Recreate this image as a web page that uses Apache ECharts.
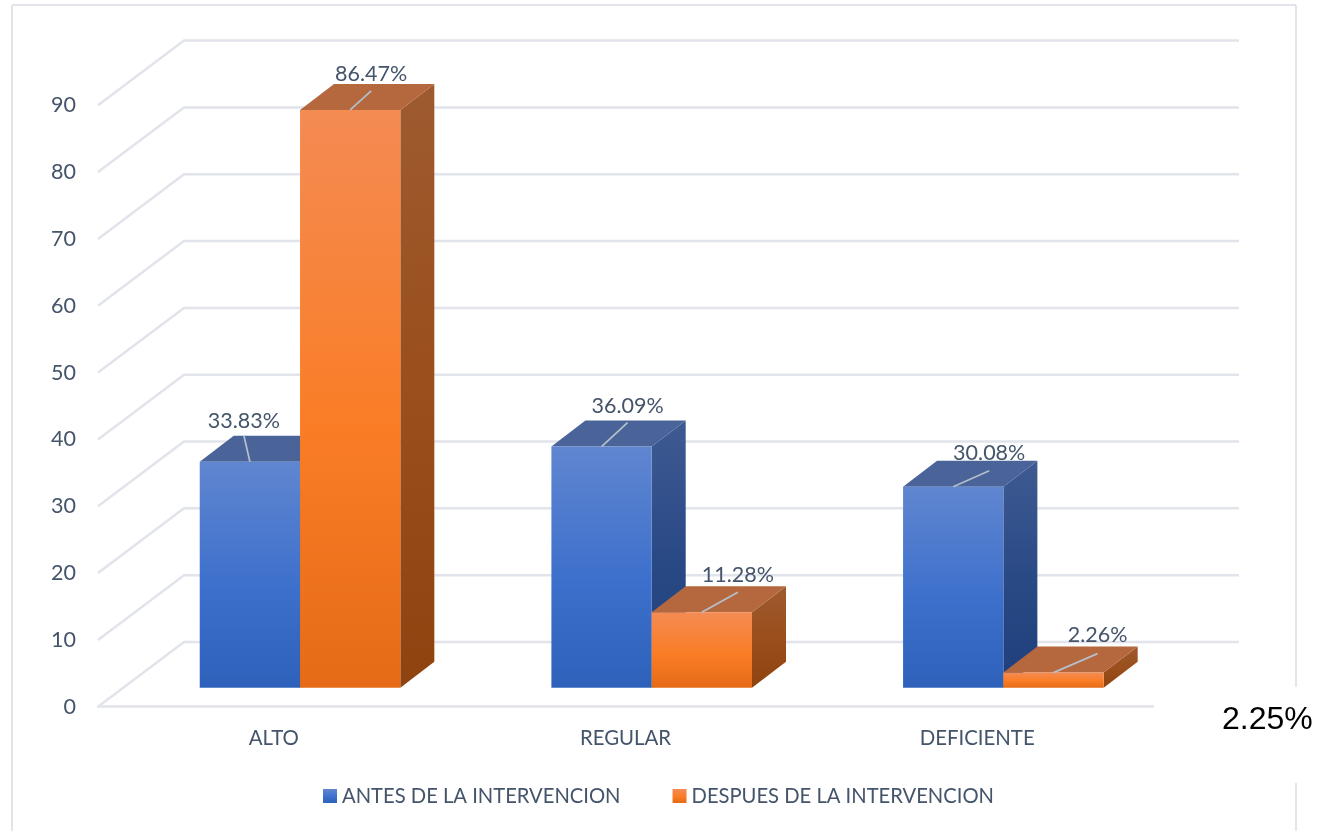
<!DOCTYPE html>
<html>
<head>
<meta charset="utf-8">
<style>
  html, body { margin: 0; padding: 0; background: #fff; }
  #chart { width: 1319px; height: 831px; }
</style>
<script src="https://cdn.jsdelivr.net/npm/echarts@6/dist/echarts.min.js"></script>
</head>
<body>
<div id="chart"></div>
<script>
const categories = ['ALTO', 'REGULAR', 'DEFICIENTE']
const antes = [33.83, 36.09, 30.08]
const despues = [86.47, 11.28, 2.26]
const yTicks = [0, 10, 20, 30, 40, 50, 60, 70, 80, 90]
const seriesNames = ['ANTES DE LA INTERVENCION', 'DESPUES DE LA INTERVENCION']

const TEXT = '#44546a'
const LINE = '#e1e4eb'
const FONT = 'Lato, "Noto Sans", sans-serif'

// vista 3D falsa: desplazamiento del piso completo y de la profundidad de la barra
const FLOOR_DX = 86
const FLOOR_DY = -64.7
const BAR_SHIFT_X = 26.2
const BAR_SHIFT_Y = -19
const DEPTH_X = 34
const DEPTH_Y = -26
const BAR_W = 100.3

// extremo de la linea guia de cada etiqueta, respecto al centro superior de la barra
// el tercer numero es la separacion entre la linea y el texto
const leadAntes = [[-6, -26, 14.5], [26, -24, 16.5], [36, -16, 17.5]]
const leadDespues = [[21, -19, 17], [36, -20, 17], [44, -19, 18.5]]

const vGrad = (stops) => new echarts.graphic.LinearGradient(0, 0, 0, 1,
  stops.map((c, i) => ({ offset: c[0], color: c[1] })))

const palette = {
  blue: {
    front: [[0, '#6086d0'], [0.55, '#3d70cc'], [1, '#2e61ba']],
    top: '#4a6399',
    side: [[0, '#3f5a92'], [0.5, '#2a4a86'], [1, '#1f3f7c']]
  },
  orange: {
    front: [[0, '#f48b53'], [0.55, '#fa7d26'], [1, '#e56b17']],
    top: '#b5683d',
    side: [[0, '#9e5a30'], [0.5, '#9a4f1c'], [1, '#8f430f']]
  }
}

const gridRenderer = (params, api) => {
  const p = api.coord([0, api.value(0)])
  const cs = params.coordSys
  const x0 = cs.x
  const y0 = p[1]
  return {
    type: 'polyline',
    shape: { points: [[x0, y0], [x0 + FLOOR_DX, y0 + FLOOR_DY], [x0 + cs.width + FLOOR_DX, y0 + FLOOR_DY]] },
    style: { stroke: LINE, lineWidth: 2.5, fill: null },
    silent: true
  }
}

// caja de una barra: cara frontal, tapa, lateral, linea guia y etiqueta
const barRenderer = (colors, side, lead) => (params, api) => {
  const idx = api.value(0)
  const val = api.value(1)
  const top = api.coord([idx, val])
  const base = api.coord([idx, 0])
  const x0 = top[0] + BAR_SHIFT_X + (side < 0 ? -BAR_W : 0)
  const x1 = x0 + BAR_W
  const yTop = top[1] + BAR_SHIFT_Y
  const yBase = base[1] + BAR_SHIFT_Y
  const mid = (x0 + x1) / 2
  const end = lead[idx]
  return {
    type: 'group',
    children: [
      {
        type: 'polygon',
        shape: { points: [[x1, yTop], [x1 + DEPTH_X, yTop + DEPTH_Y], [x1 + DEPTH_X, yBase + DEPTH_Y], [x1, yBase]] },
        style: { fill: vGrad(colors.side) }
      },
      {
        type: 'polygon',
        shape: { points: [[x0, yTop], [x0 + DEPTH_X, yTop + DEPTH_Y], [x1 + DEPTH_X, yTop + DEPTH_Y], [x1, yTop]] },
        style: { fill: colors.top }
      },
      {
        type: 'rect',
        shape: { x: x0, y: yTop, width: BAR_W, height: yBase - yTop },
        style: { fill: vGrad(colors.front) }
      },
      {
        type: 'line',
        shape: { x1: mid, y1: yTop, x2: mid + end[0], y2: yTop + end[1] },
        style: { stroke: '#b4bfcb', lineWidth: 1.8 }
      },
      {
        type: 'text',
        x: mid + end[0],
        y: yTop + end[1] - end[2],
        style: {
          text: val.toFixed(2) + '%',
          fill: TEXT,
          font: '21.5px ' + FONT,
          align: 'center',
          verticalAlign: 'middle'
        }
      }
    ]
  }
}

const frameLine = (x1, y1, x2, y2) => ({
  type: 'line',
  shape: { x1, y1, x2, y2 },
  style: { stroke: LINE, lineWidth: 2 },
  silent: true
})

const chart = echarts.init(document.getElementById('chart'))
chart.setOption({
  animation: false,
  backgroundColor: '#fff',
  grid: { left: 98, right: 166, top: 105.3, bottom: 124.3 },
  legend: {
    left: 318,
    top: 781,
    icon: 'rect',
    itemWidth: 14,
    itemHeight: 14,
    itemGap: 52,
    textStyle: { color: TEXT, fontSize: 20.2, fontFamily: FONT },
    data: [
      { name: seriesNames[0], itemStyle: { color: vGrad(palette.blue.front) } },
      { name: seriesNames[1], itemStyle: { color: vGrad(palette.orange.front) } }
    ]
  },
  xAxis: {
    type: 'category',
    data: categories,
    axisTick: { show: false },
    axisLine: { lineStyle: { color: LINE, width: 2.5 } },
    axisLabel: { color: TEXT, fontSize: 20.4, fontFamily: FONT, margin: 22 }
  },
  yAxis: {
    type: 'value',
    min: 0,
    max: 90,
    interval: 10,
    splitLine: { show: false },
    axisLine: { show: false },
    axisTick: { show: false },
    axisLabel: { color: TEXT, fontSize: 21.5, fontFamily: FONT, margin: 22, padding: [6, 0, 0, 0] }
  },
  series: [
    {
      name: 'lineas',
      type: 'custom',
      renderItem: gridRenderer,
      data: yTicks.map(v => [v]),
      encode: { y: 0 },
      silent: true,
      z: 1
    },
    {
      name: seriesNames[0],
      type: 'custom',
      renderItem: barRenderer(palette.blue, -1, leadAntes),
      data: antes.map((v, i) => [i, v]),
      encode: { x: 0, y: 1 },
      itemStyle: { color: '#3d70cc' },
      z: 2
    },
    {
      name: seriesNames[1],
      type: 'custom',
      renderItem: barRenderer(palette.orange, 1, leadDespues),
      data: despues.map((v, i) => [i, v]),
      encode: { x: 0, y: 1 },
      itemStyle: { color: '#fa7d26' },
      z: 3
    }
  ],
  graphic: [
    frameLine(12, 5, 1296, 5),
    frameLine(12, 5, 12, 831),
    frameLine(1296, 5, 1296, 687),
    frameLine(1296, 783, 1296, 831),
    {
      type: 'text',
      left: 1222,
      top: 704,
      style: { text: '2.25%', fill: '#000', font: '32px "Liberation Sans", Arial, sans-serif' }
    }
  ]
})
</script>
</body>
</html>
